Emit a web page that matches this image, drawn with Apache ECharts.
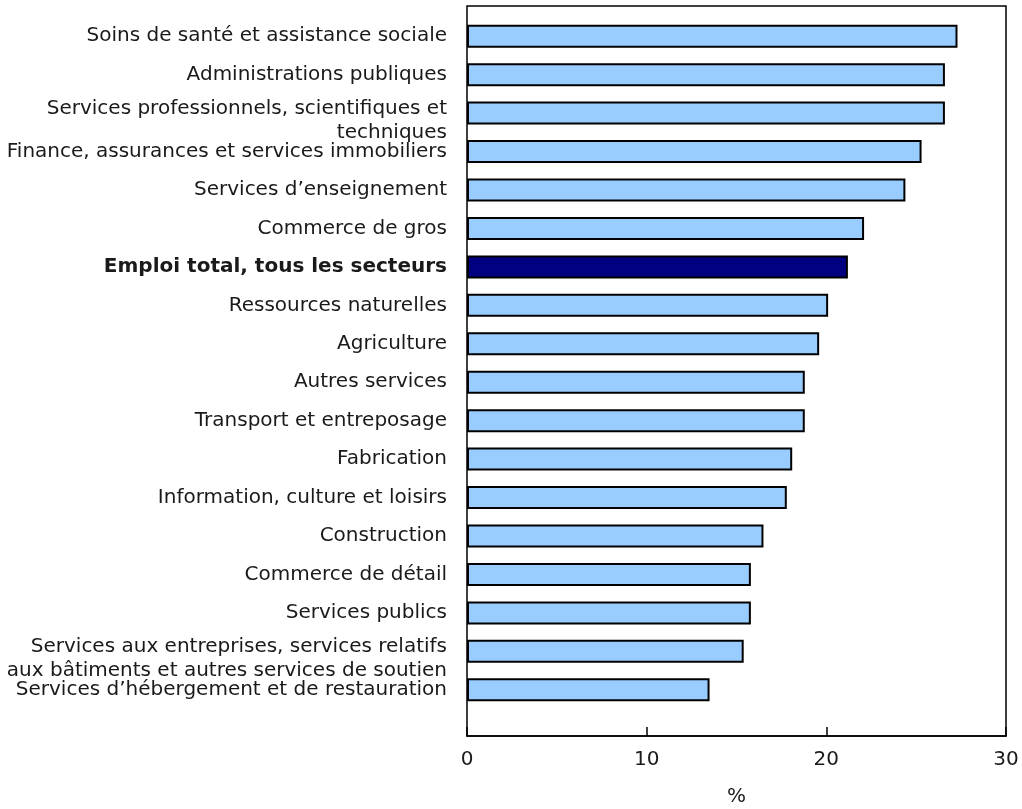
<!DOCTYPE html>
<html>
<head>
<meta charset="utf-8">
<script src="https://cdn.jsdelivr.net/npm/echarts@6/dist/echarts.min.js"></script>
<style>html,body{margin:0;padding:0;background:#fff}#c{width:1022px;height:809px}</style>
</head>
<body>
<div id="c"></div>
<script>
const categories = [
  "Soins de santé et assistance sociale",
  "Administrations publiques",
  "Services professionnels, scientifiques et\ntechniques",
  "Finance, assurances et services immobiliers",
  "Services d’enseignement",
  "Commerce de gros",
  "Emploi total, tous les secteurs",
  "Ressources naturelles",
  "Agriculture",
  "Autres services",
  "Transport et entreposage",
  "Fabrication",
  "Information, culture et loisirs",
  "Construction",
  "Commerce de détail",
  "Services publics",
  "Services aux entreprises, services relatifs\naux bâtiments et autres services de soutien",
  "Services d’hébergement et de restauration"
];
const values = [27.3, 26.6, 26.6, 25.3, 24.4, 22.1, 21.2, 20.1, 19.6, 18.8, 18.8, 18.1, 17.8, 16.5, 15.8, 15.8, 15.4, 13.5];
const totalCategory = "Emploi total, tous les secteurs";
const xTicks = [0, 10, 20, 30];
const axisTitle = "%";

const FONT = "DejaVu Sans, Verdana, sans-serif";
const TXT = '#1a1a1a';
const chart = echarts.init(document.getElementById('c'));
chart.setOption({
  animation: false,
  backgroundColor: '#fff',
  grid: [
    { left: 467, top: 6, width: 539, height: 730, show: true, borderColor: '#000', borderWidth: 1.5, backgroundColor: 'transparent', containLabel: false, outerBoundsMode: 'none' },
    { left: 467, top: 17, width: 539, height: 692, containLabel: false, outerBoundsMode: 'none' }
  ],
  xAxis: [
    {
      gridIndex: 0, type: 'value', min: xTicks[0], max: xTicks[xTicks.length - 1], interval: 10,
      axisLine: { show: true, lineStyle: { color: '#000', width: 1.5 } },
      axisTick: { show: true, inside: true, length: 9, lineStyle: { color: '#000', width: 1.5 } },
      axisLabel: { fontFamily: FONT, fontSize: 20, color: TXT, margin: 14 },
      splitLine: { show: false },
      name: axisTitle, nameLocation: 'middle', nameGap: 51,
      nameTextStyle: { fontFamily: FONT, fontSize: 20, color: TXT }
    },
    { gridIndex: 1, type: 'value', min: 0, max: 30, show: false }
  ],
  yAxis: [
    { gridIndex: 0, type: 'value', show: false },
    {
      gridIndex: 1, type: 'category', inverse: true,
      data: categories.map(function (c) {
        return c.indexOf('\n') >= 0 ? { value: c, textStyle: { padding: [15, 0, 0, 0] } } : c;
      }),
      axisLine: { show: false }, axisTick: { show: false },
      axisLabel: {
        interval: 0, hideOverlap: false,
        fontFamily: FONT, fontSize: 20, color: TXT, margin: 20, lineHeight: 24,
        formatter: function (v) { return v === totalCategory ? '{b|' + v + '}' : v; },
        rich: { b: { fontFamily: FONT, fontSize: 20, fontWeight: 'bold', color: TXT } }
      }
    }
  ],
  series: [{
    type: 'bar', xAxisIndex: 1, yAxisIndex: 1,
    data: values,
    barWidth: 23,
    itemStyle: {
      color: function (p) { return categories[p.dataIndex] === totalCategory ? '#000080' : '#99CCFF'; },
      borderColor: '#000', borderWidth: 2
    }
  }]
});
</script>
</body>
</html>
